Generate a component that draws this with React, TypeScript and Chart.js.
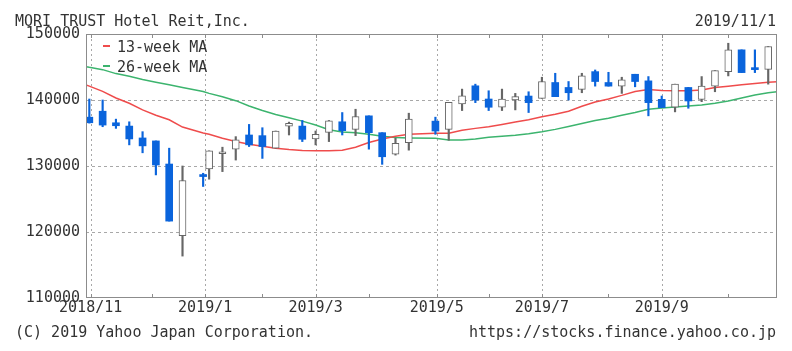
import React, { useEffect, useRef } from "react";
import { Chart, registerables } from "chart.js";

Chart.register(...registerables);

// ---- data ----
const titleText = "MORI TRUST Hotel Reit,Inc.";
const dateText = "2019/11/1";
const copyrightText = "(C) 2019 Yahoo Japan Corporation.";
const urlText = "https://stocks.finance.yahoo.co.jp";

// weekly candle positions (week slots on the time axis)
const weekPos = [
  0, 1, 2, 3, 4, 5, 6, 7, 8.55, 9, 10, 11, 12, 13, 14, 15, 16, 17, 18, 19, 20, 21, 22, 23, 24,
  26, 27, 28, 29, 30, 31, 32, 33, 34, 35, 36, 37, 38, 39, 40, 41, 42, 43, 44, 45, 46, 47, 48, 49, 50, 51,
];
const opens = [
  137400, 138300, 136550, 136050, 134250, 133800, 130300, 119450, 128550, 129550, 131850, 132550, 134700,
  134600, 132700, 136050, 136050, 134100, 135100, 136700, 135550, 137600, 135050, 131800, 133550,
  136800, 135550, 139400, 142150, 140150, 138900, 140000, 140600, 140250, 142650, 141900, 141600, 144300,
  142650, 142100, 143900, 142900, 140100, 138900, 141900, 140100, 142100, 144300, 147600, 144800, 144650,
];
const highs = [
  140150, 140000, 137100, 136700, 135200, 133800, 132700, 130000, 128900, 132300, 132850, 134450, 136300,
  135800, 135300, 136650, 136900, 135300, 136900, 138100, 138600, 137600, 135050, 134200, 138000,
  137400, 139650, 141650, 142400, 141400, 141650, 141000, 141250, 143450, 144050, 142800, 144050, 144550,
  144200, 143450, 143900, 143550, 140600, 142400, 141900, 143550, 144450, 148600, 147600, 147600, 148100,
];
const lows = [
  136500, 135950, 135700, 133200, 132000, 128650, 121650, 116350, 126900, 128000, 129150, 130900, 132950,
  131150, 132700, 134700, 133700, 133200, 133700, 134700, 134600, 132550, 130250, 131650, 132400,
  134800, 133900, 138400, 139600, 138400, 138400, 138500, 138100, 140250, 140500, 140000, 141100, 142100,
  142100, 141000, 142000, 137600, 138850, 138200, 138750, 139750, 141250, 143650, 144150, 144150, 142400,
];
const closes = [
  136550, 136200, 136100, 134100, 133050, 130150, 121650, 127800, 128400, 132300, 132000, 133950, 133200,
  132950, 135300, 136450, 134050, 134800, 136850, 135350, 137500, 135050, 131400, 133450, 137100,
  135300, 139650, 140650, 140000, 138900, 140150, 140500, 139600, 142800, 140500, 141100, 143650, 142800,
  142100, 143050, 142800, 139600, 138850, 142400, 139850, 142100, 144450, 147600, 144150, 144600, 148100,
];

// moving averages (positions include the plot edges)
const maPos = [
  -0.25, 0, 1, 2, 3, 4, 5, 6, 7, 8.55, 9, 10, 11, 12, 13, 14, 15, 16, 17, 18, 19, 20, 21, 22, 23, 24,
  26, 27, 28, 29, 30, 31, 32, 33, 34, 35, 36, 37, 38, 39, 40, 41, 42, 43, 44, 45, 46, 47, 48, 49, 50, 51, 51.66,
];
const ma13 = [
  142270, 142100, 141300, 140300, 139500, 138500, 137700, 137000, 135900, 135000, 134800, 134200, 133700,
  133300, 133000, 132700, 132500, 132350, 132300, 132300, 132400, 132850, 133550, 134100, 134500, 134800,
  134950, 134950, 135400, 135700, 135950, 136300, 136650, 137000, 137450, 137850, 138300, 139050, 139700,
  140150, 140700, 141300, 141600, 141450, 141400, 141400, 141500, 141900, 142100, 142300, 142500, 142700, 142780,
];
const ma26 = [
  145050, 144950, 144600, 144000, 143600, 143100, 142700, 142300, 141900, 141300, 141000, 140500, 139900,
  139100, 138400, 137800, 137300, 136800, 136200, 135500, 135150, 135050, 134800, 134500, 134300, 134250,
  134200, 133950, 133950, 134100, 134350, 134500, 134650, 134900, 135200, 135550, 136000, 136450, 136900,
  137250, 137700, 138100, 138600, 138800, 138950, 139100, 139250, 139500, 139850, 140300, 140750, 141100, 141260,
];
const maLabels = ["13-week MA", "26-week MA"];

const monthTickPos = [0.1, 4.7, 8.7, 13, 17, 21, 26.1, 30, 34, 39, 43, 48];
const monthLabels = [
  "2018/11", "2018/12", "2019/1", "2019/2", "2019/3", "2019/4",
  "2019/5", "2019/6", "2019/7", "2019/8", "2019/9", "2019/10",
];
const yTicks = [110000, 120000, 130000, 140000, 150000];

// ---- styles ----
const FONT = '"DejaVu Sans Mono", monospace';
const TEXT = "#333333";
const BLUE = "#0a64dc";
const GRAY = "#666666";
const RED = "#ef4c4c";
const GREEN = "#3cb46e";
const GRID = "#a8a8a8";

const gridPlugin = {
  id: "dashGrid",
  beforeDatasetsDraw(chart: any) {
    const { ctx, chartArea, scales } = chart;
    const { left, right, top, bottom } = chartArea;
    ctx.save();
    ctx.strokeStyle = GRID;
    ctx.lineWidth = 1;
    // horizontal dashed lines
    ctx.setLineDash([3, 3]);
    ctx.beginPath();
    yTicks.forEach((v) => {
      if (v === scales.y.min || v === scales.y.max) return;
      const y = Math.round(scales.y.getPixelForValue(v)) + 0.5;
      ctx.moveTo(left, y);
      ctx.lineTo(right, y);
    });
    ctx.stroke();
    // vertical dotted lines at labelled months
    ctx.setLineDash([2, 3]);
    ctx.beginPath();
    monthTickPos.forEach((v, i) => {
      if (i % 2 !== 0) return;
      const x = Math.round(scales.x.getPixelForValue(v)) + 0.5;
      ctx.moveTo(x, top);
      ctx.lineTo(x, bottom);
    });
    ctx.stroke();
    ctx.restore();
  },
};

const extrasPlugin = {
  id: "extras",
  afterDraw(chart: any) {
    const { ctx, chartArea, scales } = chart;
    const { left, right, top, bottom } = chartArea;
    ctx.save();
    // frame
    ctx.strokeStyle = "#8c8c8c";
    ctx.lineWidth = 1;
    ctx.setLineDash([]);
    ctx.strokeRect(Math.round(left) + 0.5, Math.round(top) + 0.5, Math.round(right - left) - 1, Math.round(bottom - top) - 1);
    // inward month tick marks
    ctx.beginPath();
    monthTickPos.forEach((v) => {
      const x = Math.round(scales.x.getPixelForValue(v)) + 0.5;
      ctx.moveTo(x, top);
      ctx.lineTo(x, top + 4);
      ctx.moveTo(x, bottom);
      ctx.lineTo(x, bottom - 4);
    });
    ctx.stroke();
    // texts
    ctx.font = `15px ${FONT}`;
    ctx.fillStyle = TEXT;
    ctx.textBaseline = "alphabetic";
    ctx.textAlign = "left";
    ctx.fillText(titleText, 15, 26);
    ctx.fillText(copyrightText, 15, 337);
    ctx.textAlign = "right";
    ctx.fillText(dateText, 776, 26);
    ctx.fillText(urlText, 776, 337);
    // legend
    ctx.textAlign = "left";
    const maSets = chart.data.datasets.filter((d: any) => d.type === "line");
    maSets.forEach((d: any, i: number) => {
      const y = top + 12 + i * 20;
      ctx.strokeStyle = d.borderColor;
      ctx.lineWidth = 2;
      ctx.beginPath();
      ctx.moveTo(left + 17, y);
      ctx.lineTo(left + 24, y);
      ctx.stroke();
      ctx.fillStyle = TEXT;
      ctx.fillText(d.label, left + 31, y + 5.5);
    });
    ctx.restore();
  },
};

export default function App() {
  const ref = useRef<HTMLCanvasElement | null>(null);

  useEffect(() => {
    if (!ref.current) return;
    const up = weekPos.map((_, i) => closes[i] >= opens[i]);
    const bodyData = weekPos.map((x, i) => ({ x, y: [opens[i], closes[i]] }));
    const wickData = weekPos.map((x, i) => ({ x, y: [lows[i], highs[i]] }));
    const ma13Data = maPos.map((x, i) => ({ x, y: ma13[i] }));
    const ma26Data = maPos.map((x, i) => ({ x, y: ma26[i] }));

    const chart = new Chart(ref.current, {
      type: "bar",
      data: {
        datasets: [
          {
            type: "bar",
            label: "body",
            data: bodyData as any,
            grouped: false,
            barThickness: 7,
            minBarLength: 2,
            backgroundColor: up.map((u) => (u ? "#ffffff" : BLUE)),
            borderColor: up.map((u) => (u ? GRAY : BLUE)),
            borderWidth: up.map((u) => (u ? 1 : 0)),
            borderSkipped: false,
          } as any,
          {
            type: "bar",
            label: "wick",
            data: wickData as any,
            grouped: false,
            barThickness: 1.5,
            backgroundColor: up.map((u) => (u ? GRAY : BLUE)),
            borderWidth: 0,
            borderSkipped: false,
          } as any,
          {
            type: "line",
            label: maLabels[0],
            data: ma13Data as any,
            borderColor: RED,
            borderWidth: 1.5,
            pointRadius: 0,
            tension: 0,
          } as any,
          {
            type: "line",
            label: maLabels[1],
            data: ma26Data as any,
            borderColor: GREEN,
            borderWidth: 1.5,
            pointRadius: 0,
            tension: 0,
          } as any,
        ],
      },
      options: {
        responsive: false,
        devicePixelRatio: 1,
        animation: false,
        events: [],
        layout: { padding: { left: 0, right: 15, top: 34, bottom: 31 } },
        plugins: { legend: { display: false }, tooltip: { enabled: false } },
        scales: {
          x: {
            type: "linear",
            min: -0.25,
            max: 51.66,
            offset: false,
            afterBuildTicks: (scale: any) => {
              scale.ticks = monthTickPos.map((v) => ({ value: v }));
            },
            afterFit: (scale: any) => {
              scale.height = 22;
            },
            ticks: {
              autoSkip: false,
              maxRotation: 0,
              padding: 1,
              color: TEXT,
              font: { family: FONT, size: 15 },
              callback: (_v: any, index: number) => (index % 2 === 0 ? monthLabels[index] : ""),
            },
            grid: { display: false, drawTicks: false, offset: false },
            border: { display: false },
          },
          y: {
            type: "linear",
            min: 110000,
            max: 150000,
            afterBuildTicks: (scale: any) => {
              scale.ticks = yTicks.map((v) => ({ value: v }));
            },
            afterFit: (scale: any) => {
              scale.width = 86;
            },
            ticks: {
              padding: 6,
              color: TEXT,
              font: { family: FONT, size: 15 },
              callback: (v: any) => String(v),
            },
            grid: { display: false, drawTicks: false },
            border: { display: false },
          },
        },
      } as any,
      plugins: [gridPlugin, extrasPlugin],
    });
    return () => chart.destroy();
  }, []);

  return (
    <div style={{ position: "absolute", left: 0, top: 0, width: 792, height: 351, background: "#fff" }}>
      <canvas ref={ref} width={792} height={351} style={{ display: "block", width: 792, height: 351 }} />
    </div>
  );
}
